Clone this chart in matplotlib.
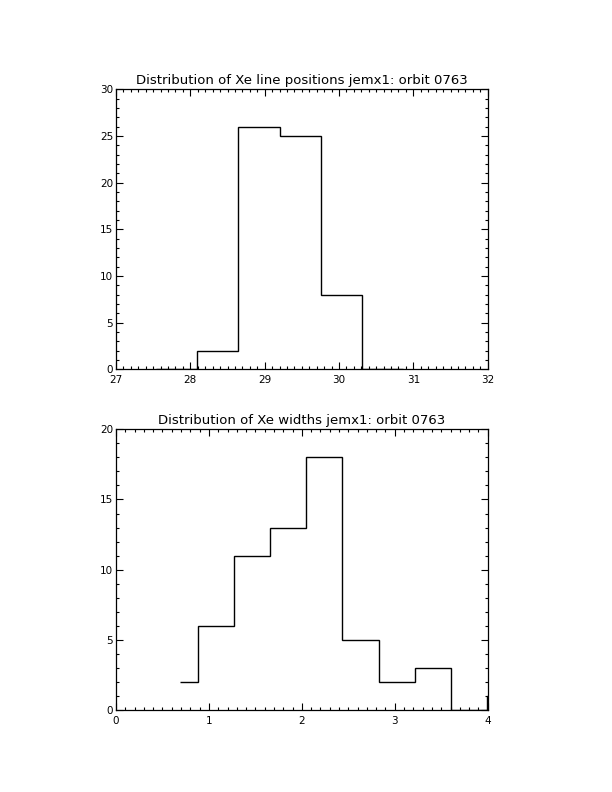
import matplotlib
matplotlib.use("Agg")
import matplotlib.pyplot as plt
from matplotlib.ticker import MultipleLocator

# Top histogram: Xe line positions (IDL psym=10 style steps)
pos_edges = [27.535, 28.09, 28.645, 29.20, 29.755, 30.31, 30.865]
pos_counts = [0, 2, 26, 25, 8, 0]

# Bottom histogram: Xe widths
wid_edges = [0.684, 0.878, 1.266, 1.656, 2.046, 2.436, 2.826, 3.216, 3.608, 3.997, 4.19]
wid_counts = [2, 6, 11, 13, 18, 5, 2, 3, 0, 1]

titles = ["Distribution of Xe line positions jemx1: orbit 0763",
          "Distribution of Xe widths jemx1: orbit 0763"]

plt.rcParams['font.family'] = ['DejaVu Sans']
fig = plt.figure(figsize=(6.12, 7.92), dpi=100)

ax1 = fig.add_axes([116/612, 1-369.3/792, 371.7/612, 280/792])
ax2 = fig.add_axes([116/612, 1-710/792, 371.7/612, 280.7/792])

def style(ax, xlim, ylim, xmaj, ymaj):
    ax.set_xlim(*xlim)
    ax.set_ylim(*ylim)
    ax.xaxis.set_major_locator(MultipleLocator(xmaj))
    ax.xaxis.set_minor_locator(MultipleLocator(0.1))
    ax.yaxis.set_major_locator(MultipleLocator(ymaj))
    ax.yaxis.set_minor_locator(MultipleLocator(1))
    ax.tick_params(which='both', direction='in', top=True, right=True,
                   width=0.8, labelsize=7.5, color='black')
    ax.tick_params(which='major', length=5)
    ax.tick_params(axis='x', which='major', pad=4)
    ax.tick_params(axis='y', which='major', pad=2)
    ax.tick_params(which='minor', length=2.5)
    for s in ax.spines.values():
        s.set_linewidth(0.9)

style(ax1, (27, 32), (0, 30), 1, 5)
style(ax2, (0, 4), (0, 20), 1, 5)

ax1.stairs(pos_counts, pos_edges, baseline=None, color='black', linewidth=1.0)
ax2.stairs(wid_counts, wid_edges, baseline=None, color='black', linewidth=1.0)

ax1.set_title(titles[0], fontsize=9.5, pad=4)
ax2.set_title(titles[1], fontsize=9.5, pad=4)

fig.savefig("out.png", dpi=100, facecolor='white')
